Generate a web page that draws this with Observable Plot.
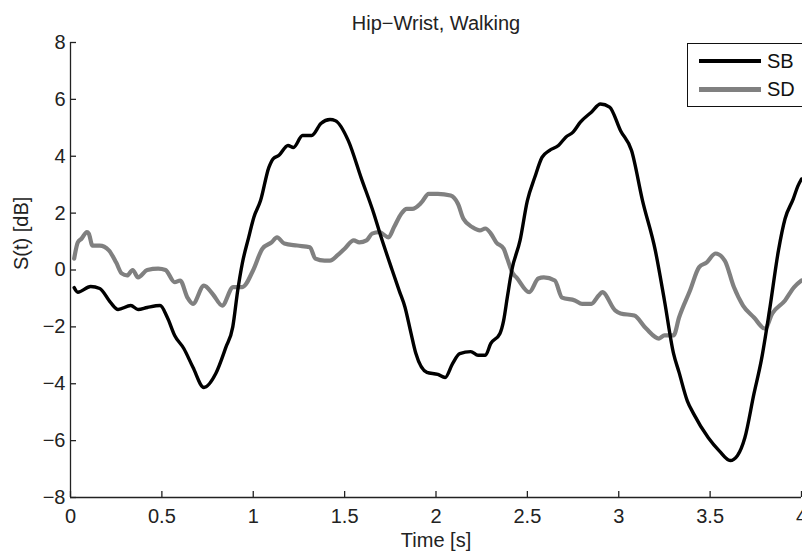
<!DOCTYPE html>
<html>
<head>
<meta charset="utf-8">
<script src="https://cdn.jsdelivr.net/npm/d3@7"></script>
<script src="https://cdn.jsdelivr.net/npm/@observablehq/plot@0.6"></script>
<style>
  html, body { margin: 0; padding: 0; background: #fff; }
  #wrap { position: relative; width: 802px; height: 551px; font-family: "Liberation Sans", Arial, sans-serif; }
  #legend { position: absolute; left: 687px; top: 43px; width: 120px; height: 64px; border: 1px solid #111; background: #fff; box-sizing: border-box; }
  .row { position: absolute; left: 11px; height: 24px; display: flex; align-items: center; }
  .sw { width: 62px; height: 4px; margin-right: 6px; }
  .lab { font-size: 20px; color: #111; }
</style>
</head>
<body>
<div id="wrap">
  <div id="chart"></div>
  <div id="legend">
    <div class="row" style="top:5px"><div class="sw" style="background:#000"></div><span class="lab">SB</span></div>
    <div class="row" style="top:33px"><div class="sw" style="background:#808080;height:5px"></div><span class="lab">SD</span></div>
  </div>
</div>
<script>
const title = "Hip\u2212Wrist, Walking";
const xLabel = "Time [s]";
const yLabel = "S(t) [dB]";
const xTicks = [0, 0.5, 1, 1.5, 2, 2.5, 3, 3.5, 4];
const yTicks = [-8, -6, -4, -2, 0, 2, 4, 6, 8];

const sbTime = [0.02,0.04,0.11,0.16,0.22,0.26,0.33,0.37,0.42,0.49,0.53,0.57,0.62,0.67,0.73,0.795,0.85,0.888,0.915,0.94,0.975,1.003,1.04,1.085,1.11,1.14,1.19,1.22,1.27,1.32,1.37,1.42,1.45,1.52,1.59,1.66,1.70,1.76,1.80,1.83,1.86,1.89,1.95,2.01,2.05,2.09,2.13,2.19,2.23,2.27,2.30,2.35,2.37,2.39,2.415,2.46,2.50,2.54,2.58,2.62,2.67,2.71,2.75,2.79,2.85,2.90,2.95,3.01,3.07,3.13,3.20,3.25,3.30,3.33,3.375,3.41,3.49,3.55,3.61,3.65,3.69,3.74,3.78,3.825,3.874,3.91,3.955,3.98,4.0];
const sbValue = [-0.62,-0.78,-0.58,-0.65,-1.15,-1.39,-1.25,-1.39,-1.32,-1.25,-1.67,-2.3,-2.76,-3.42,-4.13,-3.64,-2.72,-2.0,-0.72,0.23,1.15,1.85,2.44,3.6,3.92,4.03,4.38,4.31,4.73,4.73,5.15,5.29,5.25,4.55,3.25,1.98,1.15,0,-0.75,-1.3,-2.13,-2.94,-3.6,-3.67,-3.78,-3.3,-2.94,-2.87,-3.0,-3.0,-2.58,-2.23,-1.78,-0.97,0,1.04,2.44,3.25,3.96,4.2,4.38,4.67,4.85,5.2,5.55,5.84,5.73,4.9,4.2,2.44,0.69,-1.07,-2.94,-3.6,-4.6,-5.06,-5.9,-6.36,-6.7,-6.52,-5.9,-4.35,-3.18,-1.42,0.69,1.8,2.5,2.95,3.2];

const sdTime = [0.02,0.04,0.06,0.09,0.10,0.12,0.16,0.21,0.25,0.28,0.31,0.34,0.37,0.42,0.48,0.52,0.57,0.60,0.64,0.67,0.73,0.78,0.83,0.89,0.94,1.0,1.05,1.10,1.13,1.17,1.24,1.31,1.34,1.39,1.42,1.46,1.50,1.55,1.58,1.62,1.65,1.69,1.74,1.77,1.81,1.84,1.87,1.92,1.96,2.01,2.08,2.12,2.15,2.20,2.24,2.27,2.30,2.33,2.37,2.39,2.42,2.44,2.51,2.56,2.59,2.65,2.69,2.76,2.80,2.85,2.89,2.91,2.98,3.01,3.085,3.15,3.22,3.25,3.30,3.33,3.39,3.44,3.48,3.53,3.58,3.63,3.68,3.74,3.80,3.84,3.91,3.96,4.0];
const sdValue = [0.4,0.97,1.1,1.33,1.28,0.86,0.86,0.69,0.26,-0.12,-0.19,0,-0.26,0,0.05,0,-0.43,-0.37,-0.97,-1.19,-0.55,-0.86,-1.25,-0.6,-0.6,0,0.75,0.97,1.15,0.93,0.86,0.8,0.4,0.33,0.33,0.51,0.75,1.04,0.97,1.04,1.28,1.33,1.15,1.5,1.98,2.15,2.15,2.37,2.68,2.68,2.62,2.33,1.8,1.5,1.39,1.46,1.28,0.97,0.75,0.4,-0.12,-0.26,-0.78,-0.3,-0.26,-0.37,-0.97,-1.07,-1.19,-1.19,-0.9,-0.78,-1.42,-1.53,-1.6,-2.06,-2.41,-2.3,-2.3,-1.67,-0.72,0.1,0.26,0.58,0.33,-0.6,-1.25,-1.67,-2.06,-1.53,-1.07,-0.6,-0.37];

const sb = sbTime.map((t, i) => ({t, v: sbValue[i]}));
const sd = sdTime.map((t, i) => ({t, v: sdValue[i]}));

const fmt = d => String(d).replace("-", "\u2212");

const chart = Plot.plot({
  width: 802,
  height: 551,
  marginLeft: 70,
  marginRight: 1,
  marginTop: 42,
  marginBottom: 54,
  style: {fontFamily: "'Liberation Sans', Arial, sans-serif", fontSize: "20px", color: "#222", background: "#fff", overflow: "visible"},
  x: {domain: [0, 4]},
  y: {domain: [-8, 8]},
  marks: [
    Plot.ruleX([0], {stroke: "#222", strokeWidth: 1.3}),
    Plot.ruleY([-8], {stroke: "#222", strokeWidth: 1.3}),
    Plot.axisX({ticks: xTicks, tickFormat: fmt, tickSize: -6, tickPadding: 17, stroke: "#222", strokeWidth: 1.3, label: null, fill: "#222"}),
    Plot.axisY({ticks: yTicks, tickFormat: fmt, tickSize: -6, tickPadding: 11, stroke: "#222", strokeWidth: 1.3, label: null, fill: "#222"}),
    Plot.line(sd, {x: "t", y: "v", stroke: "#808080", strokeWidth: 4.2, strokeLinejoin: "round", curve: "monotone-x"}),
    Plot.line(sb, {x: "t", y: "v", stroke: "#000", strokeWidth: 3.4, strokeLinejoin: "round", curve: "monotone-x"}),
    Plot.text([title], {frameAnchor: "top", dy: -27, text: d => d, fontSize: 20, fill: "#222"}),
    Plot.text([xLabel], {frameAnchor: "bottom", dy: 49, text: d => d, fontSize: 20, fill: "#222"}),
    Plot.text([yLabel], {frameAnchor: "left", dx: -49, rotate: -90, text: d => d, fontSize: 20, fill: "#222"})
  ]
});
document.getElementById("chart").appendChild(chart);
</script>
</body>
</html>
